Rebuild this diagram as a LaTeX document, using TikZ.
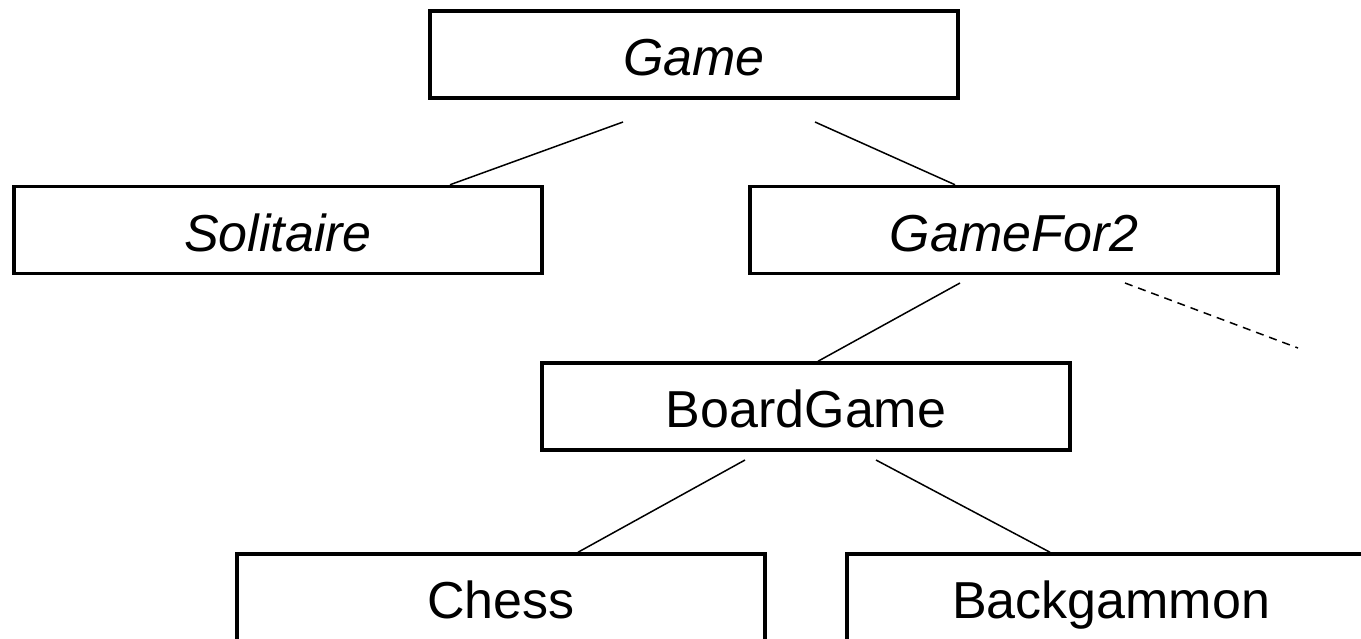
\documentclass[tikz,border=0pt]{standalone}
\usepackage{fontspec}
\setmainfont{Liberation Sans}
\begin{document}
\begin{tikzpicture}[x=0.5pt,y=-0.5pt,
  cls/.style={draw, line width=1.75pt, inner sep=0pt, minimum width=264pt, minimum height=43.5pt, text height=21pt, text depth=0pt, font=\fontsize{26}{30}\selectfont},
  abs/.style={cls, font=\fontsize{26}{30}\selectfont\itshape},
  link/.style={line width=0.75pt},
  maybe/.style={line width=0.75pt, dash pattern=on 4pt off 3pt}]
\useasboundingbox (0,0) rectangle (1361,638);
\clip (0,0) rectangle (1361,638);
\node[abs] (game) at (694,54.5) {Game};
\node[abs] (sol) at (278,230) {Solitaire};
\node[abs] (gf2) at (1014,230) {GameFor2};
\node[cls] (bg) at (806,406.5) {BoardGame};
\node[cls] (chess) at (501,597.5) {Chess};
\node[cls] (back) at (1111,597.5) {Backgammon};
\coordinate (gs) at (623,122);
\coordinate (gg) at (815,122);
\coordinate (fb) at (960,283);
\coordinate (fd) at (1125,283);
\coordinate (fde) at (1298,348);
\coordinate (bc) at (745,460);
\coordinate (bb) at (876,460);
\draw[link] (gs) -- ([xshift=86pt]sol.north);
\draw[link] (gg) -- ([xshift=-29.5pt]gf2.north);
\draw[link] (fb) -- ([xshift=6pt]bg.north);
\draw[maybe] (fd) -- (fde);
\draw[link] (bc) -- ([xshift=38.5pt]chess.north);
\draw[link] (bb) -- ([xshift=-30.5pt]back.north);
\end{tikzpicture}
\end{document}
